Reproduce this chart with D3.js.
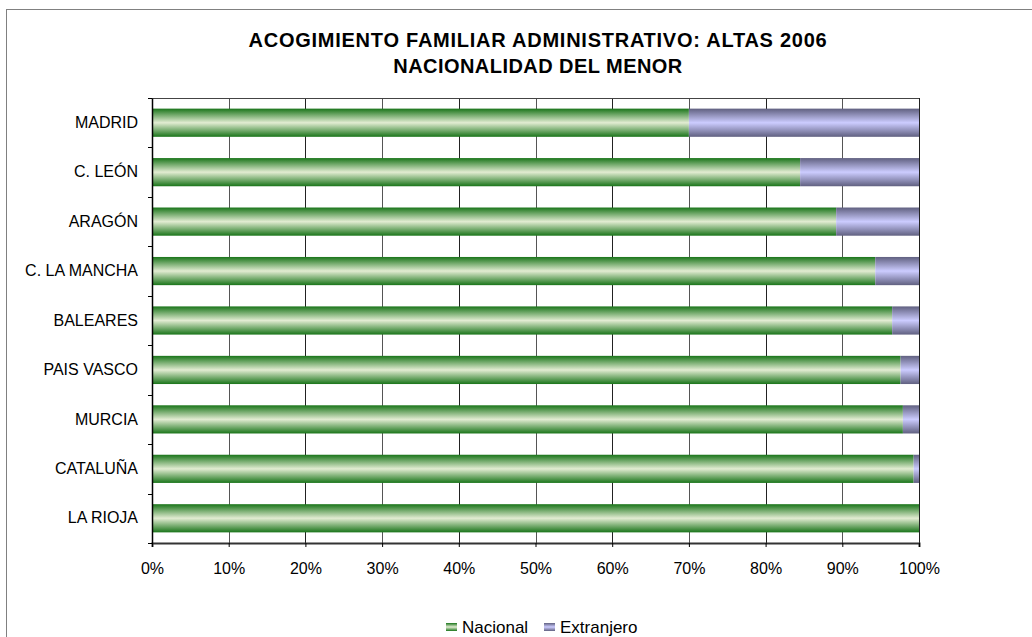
<!DOCTYPE html>
<html>
<head>
<meta charset="utf-8">
<script src="https://cdn.jsdelivr.net/npm/d3@7"></script>
<style>
  body { margin: 0; background: #fff; }
  text { font-family: "Liberation Sans", Arial, sans-serif; fill: #000; }
</style>
</head>
<body>
<div id="chart"></div>
<script>
// data (share of each region, in %)
var regions = ["MADRID", "C. LEÓN", "ARAGÓN", "C. LA MANCHA", "BALEARES",
               "PAIS VASCO", "MURCIA", "CATALUÑA", "LA RIOJA"];
var nacional = [70, 84.5, 89.2, 94.3, 96.5, 97.6, 97.9, 99.3, 100];
var extranjero = [30, 15.5, 10.8, 5.7, 3.5, 2.4, 2.1, 0.7, 0];
var seriesNames = ["Nacional", "Extranjero"];
var xTicks = [0, 10, 20, 30, 40, 50, 60, 70, 80, 90, 100];

var W = 1032, H = 637;
var margin = {top: 98, right: 113, bottom: 94, left: 152},
    width = W - margin.left - margin.right,
    height = H - margin.top - margin.bottom;

var svg = d3.select("#chart").append("svg")
    .attr("width", W).attr("height", H);

// gradients for the bars
var defs = svg.append("defs");
function grad(id, edge, mid) {
  var g = defs.append("linearGradient").attr("id", id)
      .attr("x1", 0).attr("y1", 0).attr("x2", 0).attr("y2", 1);
  g.append("stop").attr("offset", "0%").attr("stop-color", edge);
  g.append("stop").attr("offset", "50%").attr("stop-color", mid);
  g.append("stop").attr("offset", "100%").attr("stop-color", edge);
}
grad("gNac", "#1a751a", "#e2ecd2");
grad("gExt", "#606080", "#ccccff");

// outer chart border (runs off the picture on right/bottom)
svg.append("rect")
    .attr("x", 6.5).attr("y", 9.5)
    .attr("width", W + 20).attr("height", H + 20)
    .attr("fill", "none").attr("stroke", "#808080").attr("stroke-width", 1);

svg.append("text").attr("x", 538).attr("y", 47)
    .attr("text-anchor", "middle").style("font-weight", "bold").style("font-size", "20px")
    .style("letter-spacing", "0.75px")
    .text("ACOGIMIENTO FAMILIAR ADMINISTRATIVO: ALTAS 2006");
svg.append("text").attr("x", 538).attr("y", 73)
    .attr("text-anchor", "middle").style("font-weight", "bold").style("font-size", "20px")
    .style("letter-spacing", "0.45px")
    .text("NACIONALIDAD DEL MENOR");

var g = svg.append("g")
    .attr("transform", "translate(" + margin.left + "," + margin.top + ")");

var xScale = d3.scaleLinear().domain([0, 100]).range([0, width]);
var yScale = d3.scaleBand().domain(regions).range([0, height])
    .paddingInner(0.43).paddingOuter(0.215);
var yEdges = d3.scaleBand().domain(regions).range([0, height]);

// vertical gridlines
g.selectAll(".grid").data(xTicks).enter().append("line")
    .attr("x1", function(d) { return Math.round(xScale(d)) + 0.5; })
    .attr("x2", function(d) { return Math.round(xScale(d)) + 0.5; })
    .attr("y1", 0).attr("y2", height)
    .attr("stroke", function(d) { return d % 20 == 10 ? "#555" : "#222"; })
    .attr("stroke-width", 1);

// top edge of plot
g.append("line").attr("x1", 0).attr("x2", width).attr("y1", 0.5).attr("y2", 0.5)
    .attr("stroke", "#444");

// bars
var rows = regions.map(function(r, i) {
  return {region: r, nac: nacional[i], ext: extranjero[i]};
});
g.selectAll(".nac").data(rows).enter().append("rect")
    .attr("x", xScale(0))
    .attr("y", function(d) { return yScale(d.region); })
    .attr("width", function(d) { return xScale(d.nac) - xScale(0); })
    .attr("height", yScale.bandwidth())
    .attr("fill", "url(#gNac)");
g.selectAll(".ext").data(rows).enter().append("rect")
    .attr("x", function(d) { return xScale(d.nac); })
    .attr("y", function(d) { return yScale(d.region); })
    .attr("width", function(d) { return xScale(d.nac + d.ext) - xScale(d.nac); })
    .attr("height", yScale.bandwidth())
    .attr("fill", "url(#gExt)");

// axes
var xAxis = d3.axisBottom(xScale).tickValues(xTicks)
    .tickFormat(function(d) { return d + "%"; }).tickSize(4).tickPadding(16);
var gx = g.append("g").attr("transform", "translate(0," + height + ")").call(xAxis);
gx.select(".domain").attr("stroke", "#333").attr("stroke-width", 2);
gx.selectAll(".tick line").attr("stroke", "#000");
gx.selectAll("text").style("font-size", "16px").style("font-family", "Liberation Sans, Arial, sans-serif").attr("fill", "#000");

var yAxis = d3.axisLeft(yScale).tickSize(0).tickPadding(14);
var gy = g.append("g").call(yAxis);
gy.select(".domain").attr("stroke", "#000").attr("stroke-width", 1.5);
gy.selectAll("text").style("font-size", "16px").style("font-family", "Liberation Sans, Arial, sans-serif").attr("fill", "#000");

// small ticks between the categories
g.selectAll(".ytick").data(regions.concat(["end"])).enter().append("line")
    .attr("x1", -4).attr("x2", 0)
    .attr("y1", function(d, i) { return Math.round(i * yEdges.step()) + 0.5; })
    .attr("y2", function(d, i) { return Math.round(i * yEdges.step()) + 0.5; })
    .attr("stroke", "#000");

// legend
var legend = svg.append("g").attr("transform", "translate(446,633)");
var lx = [0, 98];
seriesNames.forEach(function(s, i) {
  legend.append("rect").attr("x", lx[i]).attr("y", -10).attr("width", 11).attr("height", 8)
      .attr("fill", i == 0 ? "url(#gNac)" : "url(#gExt)");
  legend.append("text").attr("x", lx[i] + 16).attr("y", 0)
      .style("font-size", "17px").text(s);
});
</script>
</body>
</html>
